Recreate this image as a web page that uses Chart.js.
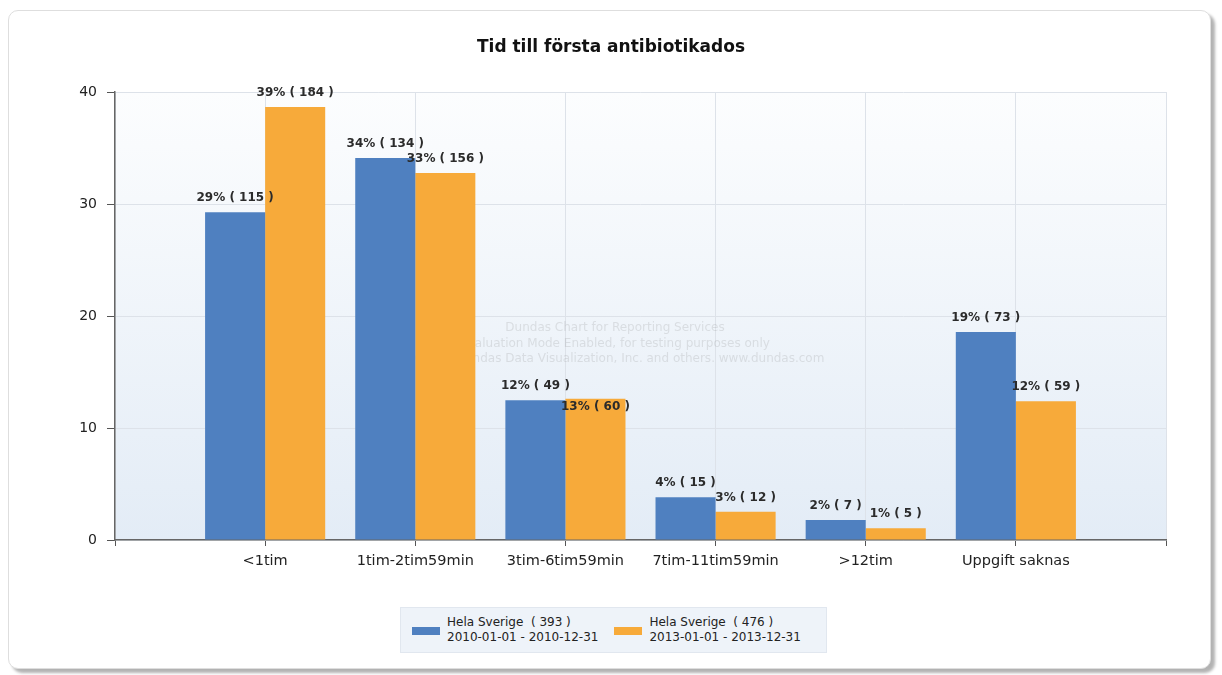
<!DOCTYPE html>
<html lang="sv">
<head>
<meta charset="utf-8">
<title>Tid till första antibiotikados</title>
<script src="https://cdn.jsdelivr.net/npm/chart.js@4.4.1/dist/chart.umd.min.js"></script>
<style>
  html, body { margin: 0; padding: 0; background: #ffffff; }
  body { width: 1222px; height: 675px; position: relative; overflow: hidden; font-family: "DejaVu Sans", sans-serif; }
  #card {
    position: absolute; left: 8px; top: 10px; width: 1201px; height: 657px;
    border: 1px solid #dedede; border-radius: 10px; background: #ffffff;
    box-shadow: 4px 4px 3px rgba(0,0,0,0.30);
  }
  #chart { position: absolute; left: 0; top: 0; }
  #legend {
    position: absolute; left: 400px; top: 607px; width: 427px; height: 46px; box-sizing: border-box;
    background: #eef3f9; border: 1px solid #e1e7ef;
    display: flex; align-items: center; padding-left: 11px; gap: 16px;
    font-size: 12px; line-height: 15px; color: #222;
  }
  .item { display: flex; align-items: center; }
  .swatch { width: 28px; height: 8px; margin-right: 7px; margin-top: 2px; }
</style>
</head>
<body>
<div id="card"></div>
<canvas id="chart" width="1222" height="675"></canvas>
<div id="legend"></div>
<script>
// Kategorier och andelar (%) per period, med antal patienter
const categories = ['<1tim', '1tim-2tim59min', '3tim-6tim59min', '7tim-11tim59min', '>12tim', 'Uppgift saknas'];
const pct2010 = [29.26, 34.10, 12.47, 3.82, 1.78, 18.58];
const pct2013 = [38.66, 32.77, 12.61, 2.52, 1.05, 12.39];
const count2010 = [115, 134, 49, 15, 7, 73];
const count2013 = [184, 156, 60, 12, 5, 59];
const seriesNames = ['Hela Sverige  ( 393 )', 'Hela Sverige  ( 476 )'];
const seriesPeriods = ['2010-01-01 - 2010-12-31', '2013-01-01 - 2013-12-31'];
const seriesColors = ['#4f80c0', '#f7aa3a'];
const yTicks = [0, 10, 20, 30, 40];
const watermark = [
  'Dundas Chart for Reporting Services',
  'Evaluation Mode Enabled, for testing purposes only',
  '© 2008 Dundas Data Visualization, Inc. and others. www.dundas.com'
];

// The x axis keeps an empty slot on each side of the categories
const labels = [''].concat(categories, ['']);
const pad = arr => [null].concat(arr, [null]);
const counts = [count2010, count2013];

const FONT = '"DejaVu Sans", sans-serif';

const plotBackground = {
  id: 'plotBackground',
  beforeDraw(chart) {
    const { ctx, chartArea: a } = chart;
    const g = ctx.createLinearGradient(0, a.top, 0, a.bottom);
    g.addColorStop(0, '#fcfdfe');
    g.addColorStop(1, '#e3ecf6');
    ctx.save();
    ctx.fillStyle = g;
    ctx.fillRect(a.left, a.top, a.right - a.left, a.bottom - a.top);
    ctx.restore();
  }
};

const watermarkText = {
  id: 'watermarkText',
  beforeDatasetsDraw(chart) {
    const { ctx } = chart;
    const cx = chart.width / 2 + 4;
    const cy = chart.height / 2 + 6;
    ctx.save();
    ctx.font = '12px ' + FONT;
    ctx.fillStyle = 'rgba(140,140,140,0.22)';
    ctx.textAlign = 'center';
    ctx.textBaseline = 'middle';
    watermark.forEach((t, i) => ctx.fillText(t, cx, cy + (i - 1) * 15.5));
    ctx.restore();
  }
};

const barValueLabels = {
  id: 'barValueLabels',
  afterDatasetsDraw(chart) {
    const { ctx } = chart;
    ctx.save();
    ctx.font = 'bold 12px ' + FONT;
    ctx.fillStyle = '#2b2b2b';
    ctx.textAlign = 'center';
    ctx.textBaseline = 'middle';
    const placed = [];
    chart.data.datasets.forEach((ds, di) => {
      const meta = chart.getDatasetMeta(di);
      meta.data.forEach((el, i) => {
        const v = ds.data[i];
        if (v === null || v === undefined) return;
        const text = Math.round(v) + '% ( ' + counts[di][i - 1] + ' )';
        const w = ctx.measureText(text).width;
        let y = el.y - 14;
        const box = { x0: el.x - w / 2, x1: el.x + w / 2 };
        const clash = placed.some(p => p.x1 > box.x0 && p.x0 < box.x1 && Math.abs(p.y - y) < 14);
        if (clash) y = el.y + 8;
        placed.push({ x0: box.x0, x1: box.x1, y });
        ctx.fillText(text, el.x, y);
      });
    });
    ctx.restore();
  }
};

new Chart(document.getElementById('chart'), {
  type: 'bar',
  data: {
    labels,
    datasets: [
      { label: seriesNames[0], data: pad(pct2010), backgroundColor: seriesColors[0] },
      { label: seriesNames[1], data: pad(pct2013), backgroundColor: seriesColors[1] }
    ]
  },
  options: {
    responsive: false,
    animation: false,
    devicePixelRatio: 1,
    categoryPercentage: 0.8,
    barPercentage: 1.0,
    layout: { padding: 0 },
    plugins: {
      legend: { display: false },
      tooltip: { enabled: false },
      title: {
        display: true,
        text: 'Tid till första antibiotikados',
        color: '#111',
        font: { family: FONT, size: 17, weight: 'bold' },
        padding: { top: 37, bottom: 34.6 }
      }
    },
    scales: {
      x: {
        offset: false,
        grid: { offset: false, color: '#dde2e9', tickColor: '#555', tickLength: 6 },
        border: { color: '#666', width: 1.5 },
        ticks: { autoSkip: false, maxRotation: 0, padding: 7, color: '#222', font: { family: FONT, size: 14.5 } },
        afterFit(s) { s.height = 135; }
      },
      y: {
        min: 0, max: 40,
        afterBuildTicks(s) { s.ticks = yTicks.map(v => ({ value: v })); },
        grid: { color: '#dde2e9', tickColor: '#555', tickLength: 8 },
        border: { color: '#666', width: 1.5 },
        ticks: { padding: 10, color: '#222', font: { family: FONT, size: 14 } },
        afterFit(s) { s.width = 115; }
      },
      yRight: {
        position: 'right', display: true, min: 0, max: 40,
        grid: { display: false, drawTicks: false },
        border: { display: false },
        ticks: { display: false },
        afterFit(s) { s.width = 56; }
      }
    }
  },
  plugins: [plotBackground, watermarkText, barValueLabels]
});

// Legend built from the series
const legend = document.getElementById('legend');
seriesNames.forEach((name, i) => {
  const item = document.createElement('div');
  item.className = 'item';
  const sw = document.createElement('span');
  sw.className = 'swatch';
  sw.style.background = seriesColors[i];
  const txt = document.createElement('div');
  txt.innerHTML = name.replace(/ /g, '&nbsp;') + '<br>' + seriesPeriods[i];
  item.appendChild(sw);
  item.appendChild(txt);
  legend.appendChild(item);
});
</script>
</body>
</html>
